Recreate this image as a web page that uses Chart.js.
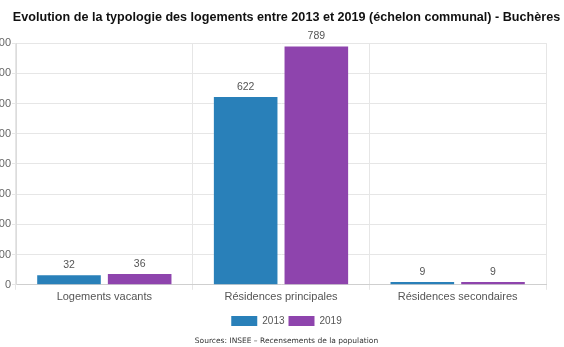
<!DOCTYPE html>
<html>
<head>
<meta charset="utf-8">
<script src="https://cdn.jsdelivr.net/npm/chart.js@4"></script>
<style>
  html, body { margin: 0; padding: 0; background: #fff; }
  #wrap { position: relative; width: 564px; height: 347px; overflow: hidden; }
</style>
</head>
<body>
<div id="wrap"><canvas id="chart" width="573" height="347"></canvas></div>
<script>
// categories and values
const categories = ["Logements vacants", "Résidences principales", "Résidences secondaires"];
const years = ["2013", "2019"];
const values2013 = [32, 622, 9];
const values2019 = [36, 789, 9];
const yTicks = [0, 100, 200, 300, 400, 500, 600, 700, 800];

const BLUE = "#2980b9";
const PURPLE = "#8e44ad";
const FONT = "'Liberation Sans', Arial, sans-serif";

// values over the bars
const valueLabels = {
  id: "valueLabels",
  afterDatasetsDraw(chart) {
    const ctx = chart.ctx;
    ctx.save();
    ctx.font = "10.5px " + FONT;
    ctx.fillStyle = "#555";
    ctx.textAlign = "center";
    ctx.textBaseline = "middle";
    chart.data.datasets.forEach((ds, i) => {
      chart.getDatasetMeta(i).data.forEach((bar, j) => {
        ctx.fillText(String(ds.data[j]), bar.x, bar.y - 10);
      });
    });
    ctx.restore();
  }
};

new Chart(document.getElementById("chart"), {
  type: "bar",
  data: {
    labels: categories,
    datasets: [
      { label: years[0], data: values2013, backgroundColor: BLUE },
      { label: years[1], data: values2019, backgroundColor: PURPLE }
    ]
  },
  options: {
    responsive: false,
    animation: false,
    layout: { padding: 0 },
    datasets: { bar: { categoryPercentage: 0.8, barPercentage: 0.9 } },
    scales: {
      x: {
        afterFit(scale) { scale.height += 7; },
        grid: {
          color: ctx => ctx.index === 3 ? "rgba(0,0,0,0)" : "#e6e6e6",
          tickLength: 5
        },
        border: { color: "#cfcfcf" },
        ticks: { color: "#555", font: { family: FONT, size: 11 }, padding: 1 }
      },
      y: {
        min: 0,
        max: 800,
        afterFit(scale) { scale.width = 16; },
        afterBuildTicks(scale) { scale.ticks = yTicks.map(v => ({ value: v })); },
        grid: { color: "#e6e6e6", tickLength: 4 },
        border: { color: "#dcdcdc" },
        ticks: { color: "#666", font: { family: FONT, size: 11 }, padding: 1 }
      },
      // empty margin on the right
      yRight: {
        position: "right",
        afterFit(scale) { scale.width = 27; },
        grid: { display: false },
        border: { display: false },
        ticks: { display: false }
      }
    },
    plugins: {
      title: {
        display: true,
        text: "Evolution de la typologie des logements entre 2013 et 2019 (échelon communal) - Buchères",
        color: "#111",
        font: { family: FONT, size: 12.6, weight: "bold" },
        padding: { top: 10, bottom: 18 }
      },
      legend: {
        position: "bottom",
        labels: {
          boxWidth: 26,
          boxHeight: 10,
          color: "#555",
          font: { family: FONT, size: 10 },
          padding: 4
        }
      },
      subtitle: {
        display: true,
        position: "bottom",
        text: "Sources: INSEE – Recensements de la population",
        color: "#333",
        font: { family: "'DejaVu Sans', sans-serif", size: 7.5 },
        padding: { top: 1, bottom: 1 }
      },
      tooltip: { enabled: false }
    }
  },
  plugins: [valueLabels]
});
</script>
</body>
</html>
